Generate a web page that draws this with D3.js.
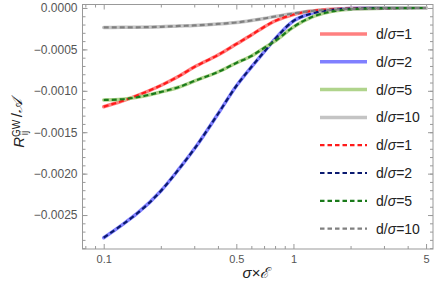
<!DOCTYPE html>
<html>
<head>
<meta charset="utf-8">
<script src="https://cdn.jsdelivr.net/npm/d3@7"></script>
<style>
  body { margin: 0; background: #fff; }
  text { font-family: "Liberation Sans", Arial, sans-serif; }
</style>
</head>
<body>
<svg id="chart" width="436" height="298"></svg>
<script>
// sigma x E values where the curves were read
var xValues = [0.1, 0.125, 0.15, 0.2, 0.25, 0.3, 0.4, 0.5, 0.6, 0.7, 0.8, 1, 1.25, 1.5, 2, 3, 5];

// R_ij^GW / A for each d/sigma
var rD1 = [-0.001192, -0.001123, -0.001057, -0.000936, -0.000821, -0.000713, -0.000568, -0.000435,
           -0.000326, -0.000229, -0.000157, -0.0000785, -0.0000362, -0.0000181, -0.000006, -0.000001, 0];
var rD2 = [-0.002774, -0.002618, -0.002481, -0.00221, -0.00194, -0.001703, -0.00128, -0.000942,
           -0.000713, -0.000531, -0.000374, -0.000157, -0.000066, -0.00003, -0.000007, -0.000001, 0];
var rD5 = [-0.001111, -0.001102, -0.001078, -0.001014, -0.000954, -0.000882, -0.000773, -0.000664,
           -0.00058, -0.000483, -0.000399, -0.000229, -0.000109, -0.0000543, -0.0000157, -0.0000036, 0];
var rD10 = [-0.000235, -0.000234, -0.000233, -0.000227, -0.000217, -0.000211, -0.000193, -0.000175,
            -0.000151, -0.000127, -0.000103, -0.0000664, -0.0000362, -0.0000242, -0.0000097, -0.0000024, 0];

var ratios = ["1", "2", "5", "10"];
var xTickValues = [0.1, 0.5, 1, 5];
var yTickValues = [0, -0.0005, -0.001, -0.0015, -0.002, -0.0025];

var svg = d3.select("#chart"),
    margin = { top: 4.5, right: 3, bottom: 49, left: 82.5 },
    width = +svg.attr("width") - margin.left - margin.right,
    height = +svg.attr("height") - margin.top - margin.bottom,
    g = svg.append("g").attr("transform", "translate(" + margin.left + "," + margin.top + ")");

var x = d3.scaleLog().domain([0.0773, 5.44]).range([0, width]);
var y = d3.scaleLinear().domain([-0.00291, 0.000042]).range([height, 0]);

var axisColor = "#999";
var labelColor = "#555";

// minor ticks
var xMinor = x.ticks().filter(function (d) { return xTickValues.indexOf(+d.toPrecision(3)) < 0; });
var yMinor = y.ticks(30);

function drawAxis(axis, transform, fontSize) {
    var a = g.append("g").attr("transform", transform).call(axis);
    a.select(".domain").remove();
    a.selectAll("line").attr("stroke", axisColor);
    if (fontSize) {
        a.selectAll("text").attr("fill", labelColor).style("font-size", fontSize);
    } else {
        a.selectAll("text").remove();
    }
}

var fmtY = d3.format(".4f");

// bottom and top
drawAxis(d3.axisBottom(x).tickValues(xMinor).tickSize(-3).tickFormat(""), "translate(0," + height + ")");
drawAxis(d3.axisBottom(x).tickValues(xTickValues).tickSize(-5).tickPadding(6)
    .tickFormat(function (d) { return String(d); }), "translate(0," + height + ")", "11px");
drawAxis(d3.axisTop(x).tickValues(xMinor).tickSize(-3).tickFormat(""), "translate(0,0)");
drawAxis(d3.axisTop(x).tickValues(xTickValues).tickSize(-5).tickFormat(""), "translate(0,0)");

// left and right
drawAxis(d3.axisLeft(y).tickValues(yMinor).tickSize(-3).tickFormat(""), "translate(0,0)");
drawAxis(d3.axisLeft(y).tickValues(yTickValues).tickSize(-5).tickPadding(5)
    .tickFormat(function (d) { return fmtY(d); }), "translate(0,0)", "12px");
drawAxis(d3.axisRight(y).tickValues(yMinor).tickSize(-3).tickFormat(""), "translate(" + width + ",0)");
drawAxis(d3.axisRight(y).tickValues(yTickValues).tickSize(-5).tickFormat(""), "translate(" + width + ",0)");

g.append("rect")
    .attr("width", width)
    .attr("height", height)
    .attr("fill", "none")
    .attr("stroke", axisColor)
    .attr("stroke-width", 1);

var seriesData = [rD1, rD2, rD5, rD10];
var solidColors = ["#ff8080", "#8080ff", "#b0d48c", "#c4c4c4"];
var dashColors = ["#ff1a1a", "#0a1a70", "#1a7a1a", "#808080"];

var line = d3.line()
    .curve(d3.curveMonotoneX)
    .x(function (d, i) { return x(xValues[i]); })
    .y(function (d) { return y(d); });

var plot = g.append("g");

seriesData.forEach(function (s, i) {
    plot.append("path")
        .datum(s)
        .attr("fill", "none")
        .attr("stroke", solidColors[i])
        .attr("stroke-width", 3.5)
        .attr("stroke-linecap", "round")
        .attr("d", line);
});
seriesData.forEach(function (s, i) {
    plot.append("path")
        .datum(s)
        .attr("fill", "none")
        .attr("stroke", dashColors[i])
        .attr("stroke-width", 2.2)
        .attr("stroke-dasharray", "5,3")
        .attr("d", line);
});

// legend
var legendItems = [];
ratios.forEach(function (r, i) { legendItems.push({ r: r, color: solidColors[i], dash: null, w: 3.5 }); });
ratios.forEach(function (r, i) { legendItems.push({ r: r, color: dashColors[i], dash: "4.5,3", w: 2.2 }); });

var legend = svg.append("g").attr("transform", "translate(320,34)");
legendItems.forEach(function (d, i) {
    var row = legend.append("g").attr("transform", "translate(0," + (i * 27.8) + ")");
    row.append("line")
        .attr("x1", 0).attr("x2", 47)
        .attr("stroke", d.color)
        .attr("stroke-width", d.w)
        .attr("stroke-dasharray", d.dash);
    var t = row.append("text")
        .attr("x", 56)
        .attr("dy", "0.36em")
        .attr("fill", "#222")
        .style("font-size", "14px");
    t.append("tspan").text("d/");
    t.append("tspan").style("font-style", "italic").text("σ");
    t.append("tspan").text("=" + d.r);
});

// axis titles
var xt = svg.append("text")
    .attr("x", margin.left + width * 0.495)
    .attr("y", 278)
    .attr("text-anchor", "middle")
    .attr("fill", "#222")
    .style("font-size", "15px");
xt.append("tspan").style("font-style", "italic").text("σ");
xt.append("tspan").text("×");
xt.append("tspan").style("font-style", "italic").text("ℰ");

var yt = svg.append("text")
    .attr("transform", "translate(24," + (margin.top + 119) + ") rotate(-90)")
    .attr("text-anchor", "middle")
    .attr("fill", "#222")
    .style("font-size", "15px");
yt.append("tspan").style("font-style", "italic").text("R");
yt.append("tspan").attr("dy", "-0.45em").style("font-size", "10px").text("GW");
yt.append("tspan").attr("dx", "-1.55em").attr("dy", "0.8em").style("font-size", "10px").text("ij");
yt.append("tspan").attr("dx", "0.9em").attr("dy", "-0.35em").text("/");
yt.append("tspan").style("font-style", "italic").text("𝒜");
</script>
</body>
</html>
